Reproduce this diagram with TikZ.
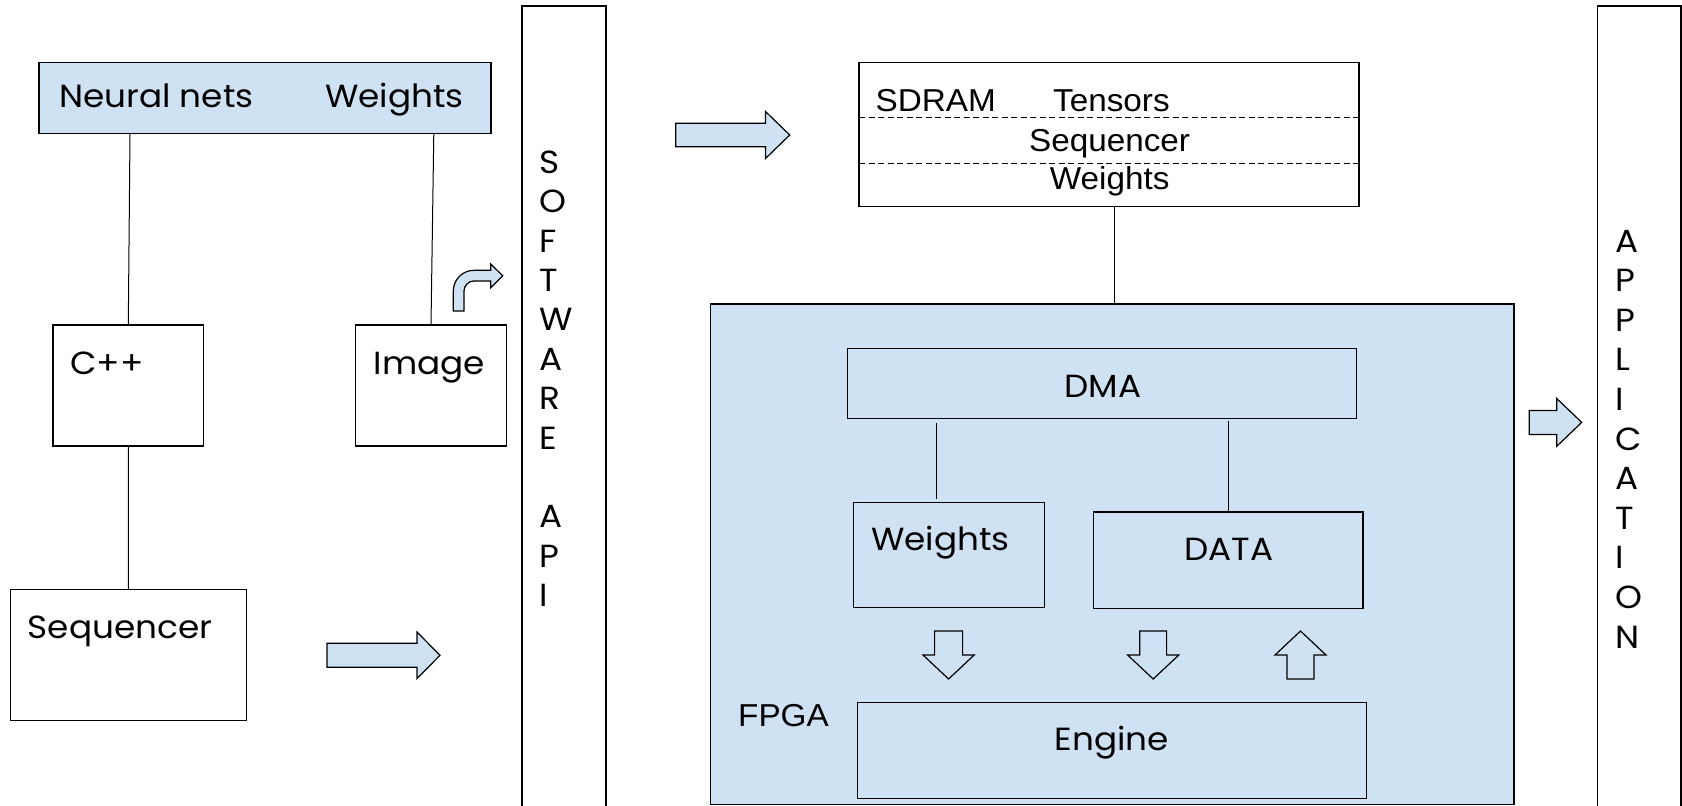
\documentclass[tikz,border=0pt]{standalone}
\usepackage{fontspec}
\setmainfont{Poppins}[FakeStretch=1.07]
\newfontfamily\arialf{Liberation Sans}[FakeStretch=1.05]
\definecolor{lb}{HTML}{CFE2F3}
\tikzset{
 box/.style={draw, line width=1.3pt, inner sep=0pt, outer sep=0pt},
 bluebox/.style={box, fill=lb},
 conn/.style={line width=1pt},
 lab/.style={inner sep=0pt, font=\fontsize{32}{39.4}\selectfont},
 alab/.style={inner sep=0pt, font=\arialf\fontsize{31.7}{38}\selectfont},
 blk/.style={draw, line width=1.2pt, fill=lb, line join=miter},
 pics/barrow/.style n args={4}{code={\draw[blk] (0,-#2) -- (#1,-#2) -- (#1,-#4) -- ({#1+#3},0) -- (#1,#4) -- (#1,#2) -- (0,#2) -- cycle;}},
}
\begin{document}
\begin{tikzpicture}[x=1pt,y=-1pt]
\useasboundingbox (0,0) rectangle (1682,806);

% left column
\node[bluebox, minimum width=452pt, minimum height=70.6pt] (nn) at (265,98) {};
\node[lab, anchor=base west] (nntxt) at (59,107.3) {Neural nets};
\node[lab, anchor=base west] (nnw) at (325,107.3) {Weights};
\node[box, minimum width=150.6pt, minimum height=121pt] (cpp) at (128.3,385.5) {};
\node[lab, anchor=base west] (cpptxt) at (70,374) {C++};
\node[box, minimum width=151pt, minimum height=121pt] (img) at (431,385.5) {};
\node[lab, anchor=base west] (imgtxt) at (373.7,374) {Image};
\node[box, minimum width=235.6pt, minimum height=131.4pt] (seq) at (128.5,655) {};
\node[lab, anchor=base west] (seqtxt) at (27.7,638.3) {Sequencer};

\draw[conn] ([xshift=-135pt]nn.south) -- (cpp.north);
\draw[conn] ([xshift=168.8pt]nn.south) -- (img.north);
\draw[conn] (cpp.south) -- (seq.north);

% software api bar
\node[box, minimum width=84pt, minimum height=806pt, anchor=north] (api) at (564,6) {};
\node[lab, anchor=base west] (apitxt) at (539,173.3) {\parbox[t]{40pt}{\raggedright\fontsize{32}{39.4}\selectfont S\\O\\F\\T\\W\\A\\R\\E\\\mbox{}\\A\\P\\I}};

% application bar
\node[box, minimum width=83.3pt, minimum height=806pt, anchor=north] (app) at (1639.4,6) {};
\node[lab, anchor=base west] (apptxt) at (1615,252) {\parbox[t]{40pt}{\raggedright\fontsize{32}{39.6}\selectfont A\\P\\P\\L\\I\\C\\A\\T\\I\\O\\N}};

% SDRAM
\node[box, minimum width=500pt, minimum height=144pt] (sdram) at (1109,134.7) {};
\draw[line width=1.2pt, dash pattern=on 6pt off 3.5pt] (sdram.west |- 0,117.3) -- (sdram.east |- 0,117.3);
\draw[line width=1.2pt, dash pattern=on 6pt off 3.5pt] (sdram.west |- 0,163.7) -- (sdram.east |- 0,163.7);
\node[alab, anchor=base west] (sdtxt) at (875.5,111) {SDRAM};
\node[alab, anchor=base west] (tens) at (1052.9,111) {Tensors};
\node[alab, anchor=base] (sdseq) at (1109.6,151.7) {Sequencer};
\node[alab, anchor=base] (sdw) at (1109.6,189.3) {Weights};

% FPGA
\node[bluebox, minimum width=803.5pt, minimum height=500.5pt] (fpga) at (1112.25,554.25) {};
\draw[conn] ([xshift=5.4pt]sdram.south) -- ([xshift=5.4pt]sdram.south |- fpga.north);
\node[box, minimum width=509pt, minimum height=70.4pt] (dma) at (1101.9,383.5) {};
\node[lab, anchor=base] (dmatxt) at (1102.8,397.3) {DMA};
\node[box, minimum width=191.5pt, minimum height=105pt] (wts) at (949,555.2) {};
\node[lab, anchor=base west] (wtstxt) at (871,550.7) {Weights};
\node[box, minimum width=269.2pt, minimum height=96.3pt] (data) at (1228.4,560.2) {};
\node[lab, anchor=base] (datatxt) at (1229,560.7) {DATA};
\node[box, minimum width=509pt, minimum height=96pt] (eng) at (1112.2,750.3) {};
\node[lab, anchor=base] (engtxt) at (1112,750.7) {Engine};
\node[alab, anchor=base west] (fpgatxt) at (738,726.7) {FPGA};

\draw[conn, shorten <=4pt, shorten >=4pt] ([xshift=-165.2pt]dma.south) -- ([xshift=-165.2pt]dma.south |- wts.north);
\draw[conn, shorten <=2pt, shorten >=1pt] (data.north |- dma.south) -- (data.north);

% block arrows
\pic at (327,655.3) {barrow={90}{12}{23}{23.3}};
\pic at (675.7,135) {barrow={89.7}{11.7}{24.3}{23.6}};
\pic at (1529.3,422.4) {barrow={27.4}{12}{25}{23.9}};
\pic[rotate=-90] at (948.6,631) {barrow={24}{14}{24}{25.6}};
\pic[rotate=-90] at (1153.2,631) {barrow={24}{13.4}{24}{25.6}};
\pic[rotate=90] at (1300.5,679) {barrow={24}{13.5}{24}{25.5}};

% bent arrow
\draw[blk] (453.3,311) -- (453.3,291) .. controls (453.3,279.6) and (462.6,270.3) .. (474,270.3) -- (490.7,270.3) -- (490.7,264) -- (502.7,275.7) -- (490.7,287.7) -- (490.7,281) -- (474,281) .. controls (468.5,281) and (464,285.5) .. (464,291) -- (464,311) -- cycle;
\end{tikzpicture}
\end{document}
